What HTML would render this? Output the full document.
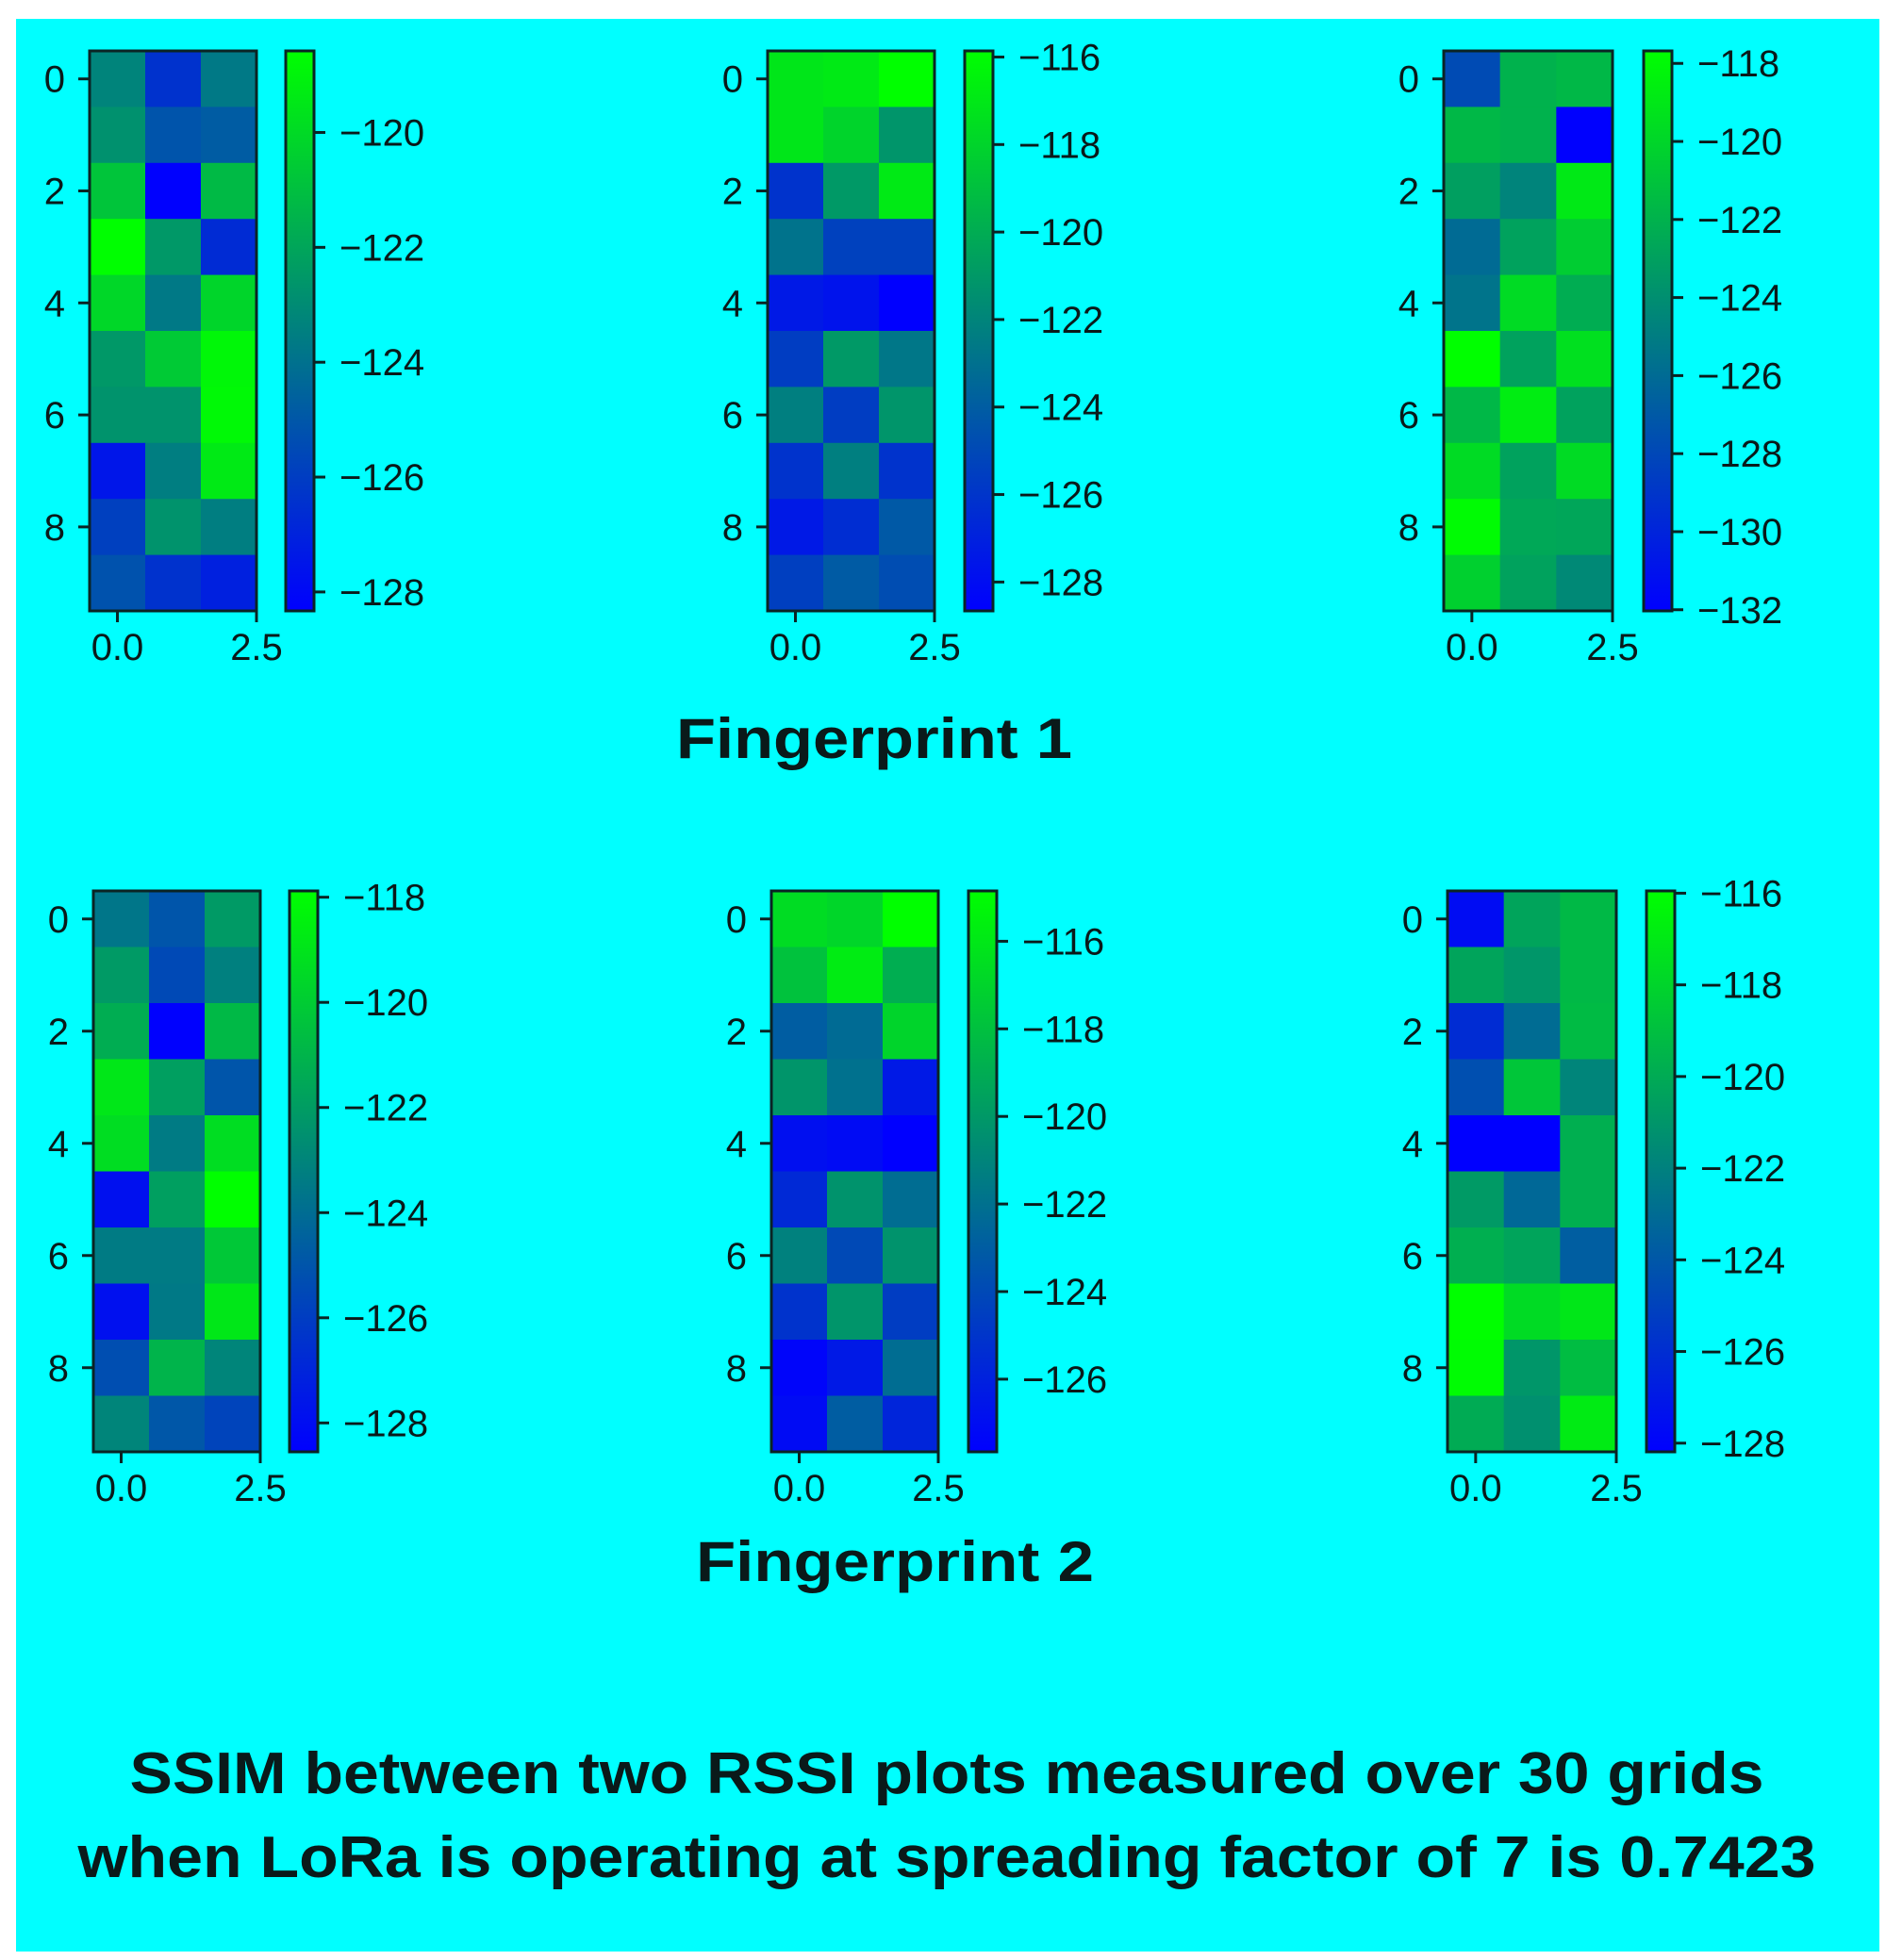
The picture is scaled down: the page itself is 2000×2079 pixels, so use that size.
<!DOCTYPE html>
<html><head><meta charset="utf-8"><style>
html,body{margin:0;padding:0;background:#fff;}
svg{display:block;}
text{font-family:"Liberation Sans",sans-serif;fill:#0a1a1a;}
</style></head><body>
<svg id="fig" width="2000" height="2079" viewBox="0 0 2000 2079" xmlns="http://www.w3.org/2000/svg">
<rect x="17" y="20" width="1976" height="2050" fill="#00ffff"/>
<g id="plots"></g>
<text x="927" y="804" font-size="60" font-weight="bold" text-anchor="middle" textLength="420" lengthAdjust="spacingAndGlyphs">Fingerprint 1</text>
<text x="949" y="1677" font-size="60" font-weight="bold" text-anchor="middle" textLength="422" lengthAdjust="spacingAndGlyphs">Fingerprint 2</text>
<text x="1004" y="1902" font-size="62" font-weight="bold" text-anchor="middle" textLength="1733" lengthAdjust="spacingAndGlyphs">SSIM between two RSSI plots measured over 30 grids</text>
<text x="1004" y="1991" font-size="62" font-weight="bold" text-anchor="middle" textLength="1843" lengthAdjust="spacingAndGlyphs">when LoRa is operating at spreading factor of 7 is 0.7423</text>
</svg>
<script>
const ns="http://www.w3.org/2000/svg";
const yTicks=[0,2,4,6,8];
const xTickLabels=["0.0","2.5"];
const f1a=[[-123.3,-126.4,-123.7],[-122.8,-125.1,-124.8],[-120.8,-128.3,-121.2],[-118.6,-122.5,-126.7],[-120.1,-123.7,-120.2],[-122.5,-120.6,-118.9],[-122.7,-122.7,-118.8],[-127.5,-123.5,-119.4],[-125.9,-122.7,-123.5],[-125.2,-126.4,-127.1]];
const f1b=[[-117.1,-116.9,-115.86],[-117.1,-118.0,-121.2],[-126.1,-121.0,-116.9],[-122.9,-125.4,-125.4],[-127.4,-127.7,-128.66],[-125.6,-121.0,-122.7],[-122.3,-125.6,-121.2],[-126.1,-122.3,-126.1],[-127.4,-126.4,-124.2],[-125.5,-124.1,-124.8]];
const f1c=[[-127.8,-122.0,-121.7],[-121.7,-122.0,-132.0],[-123.1,-124.6,-118.9],[-126.0,-122.9,-120.5],[-125.5,-119.7,-122.3],[-117.7,-122.9,-119.4],[-121.7,-118.7,-122.9],[-119.7,-122.9,-119.7],[-117.9,-122.6,-122.7],[-120.3,-122.9,-124.3]];
const f2a=[[-123.6,-125.0,-122.1],[-122.1,-125.5,-123.2],[-121.3,-128.5,-120.8],[-118.9,-121.9,-125.0],[-119.3,-123.4,-119.3],[-127.9,-121.9,-117.9],[-123.4,-123.4,-120.2],[-127.9,-123.5,-118.9],[-125.3,-121.0,-123.0],[-123.0,-124.9,-125.7]];
const f2b=[[-116.6,-116.9,-114.85],[-117.9,-115.8,-118.9],[-123.0,-122.3,-117.0],[-120.2,-122.0,-126.4],[-126.9,-127.1,-127.66],[-125.6,-120.3,-122.2],[-121.2,-124.0,-120.3],[-125.1,-120.2,-124.6],[-127.4,-126.4,-122.2],[-127.1,-123.0,-125.8]];
const f2c=[[-127.6,-120.3,-119.3],[-120.3,-121.0,-119.3],[-126.1,-123.0,-119.2],[-124.4,-118.7,-121.8],[-128.19,-128.19,-119.8],[-120.8,-123.2,-119.8],[-119.8,-120.3,-123.7],[-115.95,-117.7,-117.1],[-116.1,-121.0,-119.1],[-120.0,-121.3,-116.9]];
const cb1a=[-120,-122,-124,-126,-128];
const cb1b=[-116,-118,-120,-122,-124,-126,-128];
const cb1c=[-118,-120,-122,-124,-126,-128,-130,-132];
const cb2a=[-118,-120,-122,-124,-126,-128];
const cb2b=[-116,-118,-120,-122,-124,-126];
const cb2c=[-116,-118,-120,-122,-124,-126,-128];
const panels=[
 {name:"fp1-left",data:f1a,ticks:cb1a,x:95,y:54,w:177,h:594,cx:303,vmin:-128.33,vmax:-118.58},
 {name:"fp1-middle",data:f1b,ticks:cb1b,x:814,y:54,w:177,h:594,cx:1023,vmin:-128.66,vmax:-115.86},
 {name:"fp1-right",data:f1c,ticks:cb1c,x:1531,y:54,w:179,h:594,cx:1743,vmin:-132.03,vmax:-117.68},
 {name:"fp2-left",data:f2a,ticks:cb2a,x:99,y:945,w:177,h:595,cx:307,vmin:-128.55,vmax:-117.88},
 {name:"fp2-middle",data:f2b,ticks:cb2b,x:818,y:945,w:177,h:595,cx:1027,vmin:-127.66,vmax:-114.85},
 {name:"fp2-right",data:f2c,ticks:cb2c,x:1535,y:945,w:179,h:595,cx:1746,vmin:-128.19,vmax:-115.95}
];
function col(t){t=Math.max(0,Math.min(1,t));return "rgb(0,"+Math.round(255*t)+","+Math.round(255*(1-t))+")";}
function mk(tag,attrs,parent){const e=document.createElementNS(ns,tag);for(const k in attrs)e.setAttribute(k,attrs[k]);parent.appendChild(e);return e;}
const root=document.getElementById("plots");
const defs=mk("defs",{},root);
panels.forEach((p,pi)=>{
 const g=mk("g",{},root);
 
 
 const rows=p.data.length,cols=p.data[0].length;
 const cw=p.w/cols,rh=p.h/rows;
 const xs=c=>p.x+(c+0.5)*cw;
 const ys=r=>p.y+(r+0.5)*rh;
 const norm=v=>(v-p.vmin)/(p.vmax-p.vmin);
 p.data.forEach((row,r)=>row.forEach((v,c)=>{
  const cell=mk("rect",{x:(xs(c)-cw/2).toFixed(2),y:(ys(r)-rh/2).toFixed(2),width:(cw+0.6).toFixed(2),height:(rh+0.6).toFixed(2),fill:col(norm(v))},g);
  
  
 }));
 const fr=mk("rect",{x:p.x,y:p.y,width:p.w,height:p.h,fill:"none",stroke:"#0a2424","stroke-width":3},g);
 
 
 yTicks.forEach(t=>{
  mk("line",{x1:p.x-12,x2:p.x,y1:ys(t),y2:ys(t),stroke:"#0a2424","stroke-width":3},g);
  const tx=mk("text",{x:p.x-26,y:ys(t)+14,"font-size":40,"text-anchor":"end"},g);
  tx.textContent=t;
  
  
 });
 [0,2.5].forEach((t,i)=>{
  const X=xs(t);
  mk("line",{x1:X,x2:X,y1:p.y+p.h,y2:p.y+p.h+12,stroke:"#0a2424","stroke-width":3},g);
  const tx=mk("text",{x:X,y:p.y+p.h+52,"font-size":40,"text-anchor":"middle"},g);
  tx.textContent=xTickLabels[i];
  
  
 });
 const gid="grad"+pi;
 const lg=mk("linearGradient",{id:gid,x1:0,y1:0,x2:0,y2:1},defs);
 mk("stop",{offset:"0","stop-color":"rgb(0,255,0)"},lg);
 mk("stop",{offset:"1","stop-color":"rgb(0,0,255)"},lg);
 const cbw=30;
 const cb=mk("rect",{x:p.cx,y:p.y,width:cbw,height:p.h,fill:"url(#"+gid+")",stroke:"#0a2424","stroke-width":3},g);
 
 
 const cy=v=>p.y+(p.vmax-v)/(p.vmax-p.vmin)*p.h;
 p.ticks.forEach(t=>{
  const Y=cy(t);
  mk("line",{x1:p.cx+cbw,x2:p.cx+cbw+12,y1:Y,y2:Y,stroke:"#0a2424","stroke-width":3},g);
  const tx=mk("text",{x:p.cx+cbw+27,y:Y+14,"font-size":40},g);
  tx.textContent="\u2212"+Math.abs(t);
  
  
 });
});
</script>
</body></html>
